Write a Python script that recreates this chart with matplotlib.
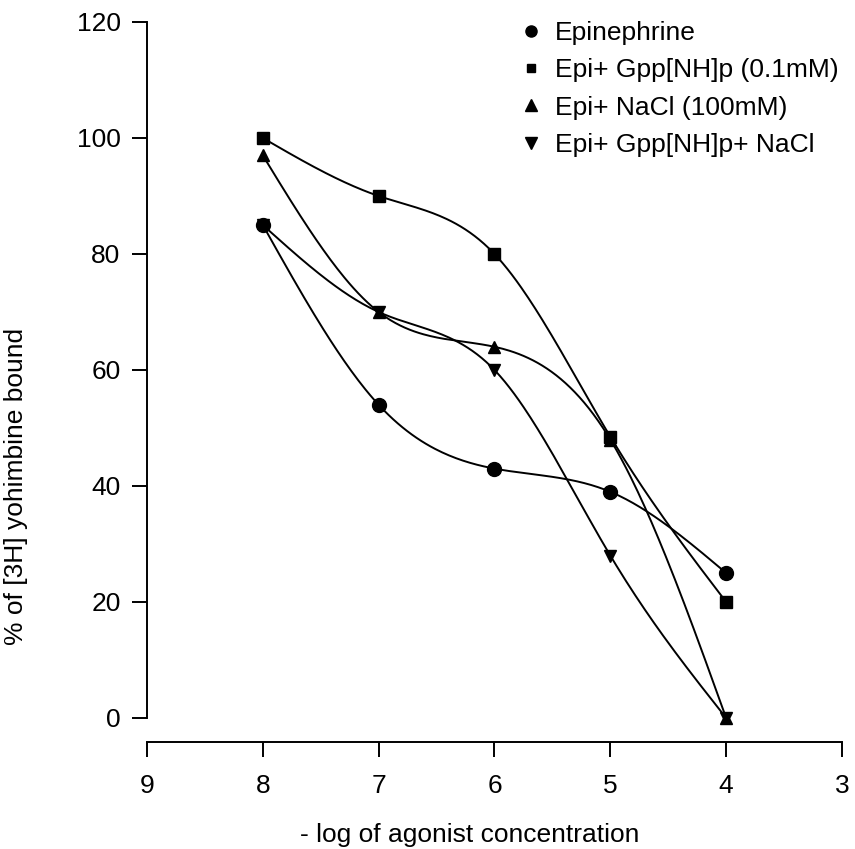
import numpy as np
import matplotlib.pyplot as plt
from matplotlib.lines import Line2D

plt.rcParams['font.family'] = ['Liberation Sans', 'DejaVu Sans']

log_conc = [8, 7, 6, 5, 4]
epinephrine = [85, 54, 43, 39, 25]
epi_gpp = [100, 90, 80, 48.5, 20]
epi_nacl = [97, 70, 64, 48, 0]
epi_gpp_nacl = [85, 70, 60, 28, 0]

labels = ["Epinephrine", "Epi+ Gpp[NH]p (0.1mM)", "Epi+ NaCl (100mM)", "Epi+ Gpp[NH]p+ NaCl"]
markers = ['o', 's', '^', 'v']


def spline(x, y, n=200):
    # natural cubic spline through the points, just for drawing the curve
    x = np.asarray(x, float)[::-1]
    y = np.asarray(y, float)[::-1]
    k = len(x)
    h = np.diff(x)
    A = np.zeros((k, k))
    b = np.zeros(k)
    A[0, 0] = A[-1, -1] = 1
    for i in range(1, k - 1):
        A[i, i - 1] = h[i - 1]
        A[i, i] = 2 * (h[i - 1] + h[i])
        A[i, i + 1] = h[i]
        b[i] = 6 * ((y[i + 1] - y[i]) / h[i] - (y[i] - y[i - 1]) / h[i - 1])
    M = np.linalg.solve(A, b)
    xs = np.linspace(x[0], x[-1], n)
    idx = np.clip(np.searchsorted(x, xs) - 1, 0, k - 2)
    x0, x1 = x[idx], x[idx + 1]
    hh = x1 - x0
    t0, t1 = x1 - xs, xs - x0
    ys = (M[idx] * t0 ** 3 + M[idx + 1] * t1 ** 3) / (6 * hh) \
        + (y[idx] / hh - M[idx] * hh / 6) * t0 \
        + (y[idx + 1] / hh - M[idx + 1] * hh / 6) * t1
    return xs, ys


fig = plt.figure(figsize=(8.55, 8.49), dpi=100)
ax = fig.add_axes([0.1719, 0.1543, 0.8129, 0.8198])

handles = []
for ys, m in zip([epinephrine, epi_gpp, epi_nacl, epi_gpp_nacl], markers):
    sx, sy = spline(log_conc, ys)
    ax.plot(sx, sy, color='black', lw=1.4, clip_on=False)
    ax.plot(log_conc, ys, m, color='black', ms=10 if m == 'o' else 9, clip_on=False, zorder=3)
    handles.append(Line2D([], [], marker=m, ls='none', color='black', ms=6 if m == 's' else 8))

ax.set_xlim(9, 3)
ax.set_ylim(0, 120)
ax.set_xticks([9, 8, 7, 6, 5, 4, 3])
ax.set_yticks([0, 20, 40, 60, 80, 100, 120])

for s in ['top', 'right']:
    ax.spines[s].set_visible(False)
ax.spines['bottom'].set_position(('outward', 17))
ax.spines['left'].set_linewidth(1.4)
ax.spines['bottom'].set_linewidth(1.4)
ax.tick_params(length=11, width=1.4, labelsize=19)
ax.tick_params(axis='x', pad=12)
ax.tick_params(axis='y', pad=8)

ax.set_xlabel("- log of agonist concentration", fontsize=19)
ax.set_ylabel("% of [3H] yohimbine bound", fontsize=19)
ax.xaxis.set_label_coords(0.465, -0.151)
ax.yaxis.set_label_coords(-0.171, 0.332)

ax.legend(handles, labels, loc='upper right', bbox_to_anchor=(0.981, 0.975),
          bbox_transform=fig.transFigure, frameon=False, fontsize=19,
          handlelength=0.6, handletextpad=0.6, labelspacing=0.5,
          borderpad=0, borderaxespad=0)

fig.savefig('out.png', dpi=100)
